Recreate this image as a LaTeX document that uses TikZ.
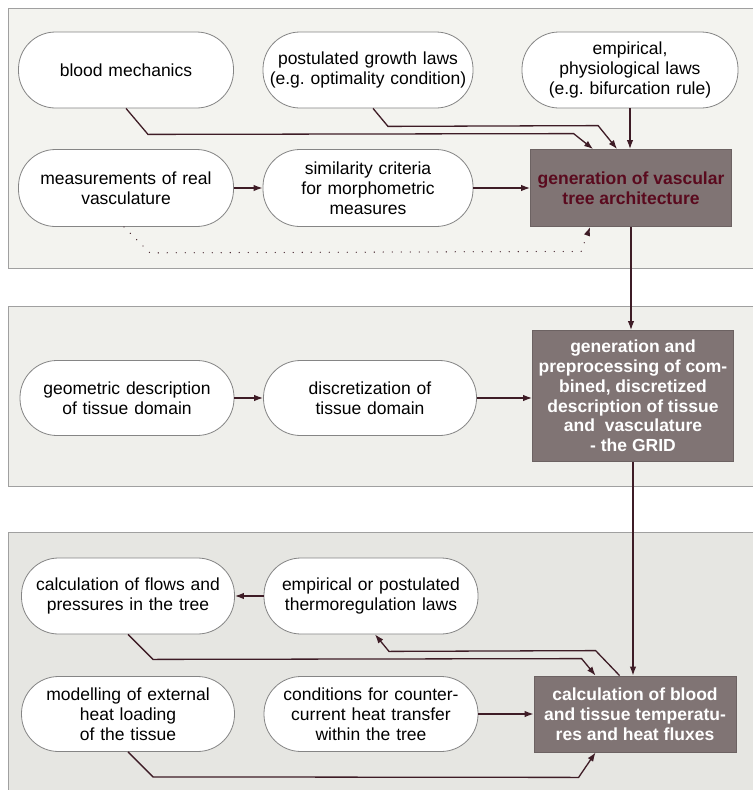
\documentclass[tikz,border=0pt]{standalone}
\usepackage{fontspec}
\setmainfont{Liberation Sans}
\usetikzlibrary{arrows.meta,calc}
\frenchspacing
\definecolor{panelA}{HTML}{F3F3EF}
\definecolor{panelB}{HTML}{EFEFEB}
\definecolor{panelC}{HTML}{E6E6E2}
\definecolor{panelline}{HTML}{A0A0A0}
\definecolor{ovalline}{HTML}{858585}
\definecolor{boxfill}{HTML}{807474}
\definecolor{boxline}{HTML}{6C6262}
\definecolor{arrcol}{HTML}{3E1C26}
\definecolor{maroon}{HTML}{5A0A1E}
\tikzset{
  oval/.style={draw=ovalline, line width=0.8pt, fill=white, rounded corners=37pt,
    inner sep=0pt, align=center, text width=#1, minimum width=#1},
  oval/.default=214pt,
  darkbox/.style={draw=boxline, line width=0.8pt, fill=boxfill, inner sep=0pt,
    align=center, font=\fontsize{17.5}{19.8}\selectfont\bfseries},
  arr/.style={draw=arrcol, line width=1.3pt, -{Latex[length=9pt,width=6.5pt]}},
  dotarr/.style={draw=arrcol, line width=1.3pt, line cap=round, dash pattern=on 0pt off 9pt,
    -{Latex[length=9pt,width=6.5pt]}},
  panelborder/.style={draw=panelline, line width=1pt}
}
\begin{document}
\begin{tikzpicture}[x=1pt,y=-1pt, font=\fontsize{17.5}{20}\selectfont]
\useasboundingbox (0,0) rectangle (753,790);
\fill[white] (0,0) rectangle (753,790);
% panels
\fill[panelA] (8,8) rectangle (753,268);
\draw[panelborder] (753,8) -- (8,8) -- (8,268) -- (753,268);
\fill[panelB] (8,306) rectangle (753,486);
\draw[panelborder] (753,306) -- (8,306) -- (8,486) -- (753,486);
\fill[panelC] (8,532) rectangle (753,790);
\draw[panelborder] (753,532) -- (8,532) -- (8,790);

% panel 1 nodes
\node[oval=215pt, minimum height=76pt] (bm) at (126,70) {blood mechanics};
\node[oval=210pt, minimum height=76pt] (pg) at (368,70) {postulated growth laws\\(e.g. optimality condition)};
\node[oval=216pt, minimum height=76pt] (em) at (630,70) {empirical,\\physiological laws\\(e.g. bifurcation rule)};
\node[oval=215pt, minimum height=77pt] (ms) at (126,188) {measurements of real\\vasculature};
\node[oval=210pt, minimum height=77pt] (sc) at (368,188) {similarity criteria\\for morphometric\\measures};
\node[darkbox, text=maroon, minimum width=201pt, minimum height=77pt] (gen) at (631,188) {generation of vascular\\tree architecture};

% panel 2 nodes
\node[oval=214pt, minimum height=75pt] (gd) at (127,398) {geometric description\\of tissue domain};
\node[oval=213pt, minimum height=75pt] (dt) at (370,398) {discretization of\\tissue domain};
\node[darkbox, text=white, minimum width=201pt, minimum height=131pt] (grid) at (633,396) {generation and\\preprocessing of com-\\bined, discretized\\description of tissue\\and \ vasculature\\- the GRID};

% panel 3 nodes
\node[oval=213pt, minimum height=76pt] (cf) at (128,596) {calculation of flows and\\pressures in the tree};
\node[oval=214pt, minimum height=76pt] (et) at (371,596) {empirical or postulated\\thermoregulation laws};
\node[oval=213pt, minimum height=75pt] (mo) at (128,714) {modelling of external\\heat loading\\of the tissue};
\node[oval=214pt, minimum height=75pt] (co) at (371,714) {conditions for counter-\\current heat transfer\\within the tree};
\node[darkbox, text=white, minimum width=202pt, minimum height=76pt] (cb) at (635,714) {calculation of blood\\and tissue temperatu-\\res and heat fluxes};

% panel 1 connectors
\draw[arr] (bm.south) -- ++(22,26) -- ($(gen.north west)+(43.5,-15.5)$) -- ($(gen.north west)+(63,0)$);
\draw[arr] ($(pg.south)+(5,0)$) -- ++(15,18) -- ($(gen.north west)+(68,-23.5)$) -- ($(gen.north west)+(87,0)$);
\draw[arr] (em.south) -- (em.south |- gen.north);
\draw[arr] (ms) -- (sc);
\draw[arr] (sc) -- (gen);
\draw[dotarr] ($(ms.south)+(-2,0)$) -- ++(26,26) -- ($(gen.south west)+(51,24.5)$) -- ($(gen.south west)+(60,0)$);
\draw[arr] (gen.south) -- (gen.south |- grid.north);

% panel 2 connectors
\draw[arr] (gd) -- (dt);
\draw[arr] (dt.east) -- (dt.east -| grid.west);
\draw[arr] (grid.south) -- (grid.south |- cb.north);

% panel 3 connectors
\draw[arr] (et) -- (cf);
\draw[arr] (cf.south) -- ++(25,25) -- ($(cb.north west)+(48,-17)$) -- ($(cb.north west)+(62,0)$);
\draw[arr] ($(cb.north west)+(86,0)$) -- ++(-24,-25) -- ($(et.south)+(18,17)$) -- ($(et.south)+(4,0)$);
\draw[arr] (co.east) -- (co.east -| cb.west);
\draw[arr] (mo.south) -- ++(25,25) -- ($(cb.south west)+(45,25)$) -- ($(cb.south west)+(62,0)$);
\end{tikzpicture}
\end{document}
